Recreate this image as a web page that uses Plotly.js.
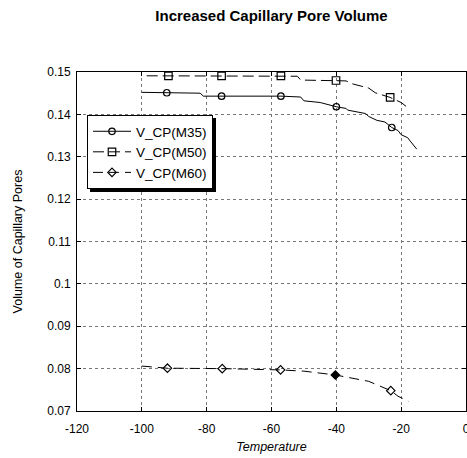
<!DOCTYPE html>
<html><head><meta charset="utf-8">
<script src="https://cdn.plot.ly/plotly-3.0.1.min.js"></script>
<style>html,body{margin:0;padding:0;background:#fff;}#chart{width:467px;height:458px;}</style>
</head><body><div id="chart"></div>
<script>
// Line data
const m35LineX = [-100, -92.3, -82, -81, -75.4, -57.1, -51, -50, -45, -40, -37, -36.5, -31, -30, -27.5, -25, -22.9, -21, -20, -18, -17, -15.2];
const m35LineY = [0.1452, 0.1451, 0.1450, 0.1443, 0.1443, 0.1443, 0.1441, 0.1432, 0.1428, 0.1418, 0.1414, 0.1410, 0.1402, 0.1395, 0.1386, 0.1382, 0.1369, 0.1362, 0.1352, 0.1345, 0.1335, 0.1318];
const m50LineX = [-98.5, -91.8, -75.4, -57.1, -52, -51, -40.1, -37, -35, -30, -28, -23.4, -20, -18.5, -17.3];
const m50LineY = [0.1491, 0.1491, 0.1491, 0.1491, 0.1490, 0.1481, 0.1480, 0.1479, 0.1472, 0.1462, 0.1451, 0.1440, 0.1428, 0.1420, 0.1412];
const m60LineX = [-100, -92.1, -75.2, -57.2, -50, -40.3, -30, -23.2, -21, -17.8];
const m60LineY = [0.0806, 0.0801, 0.0800, 0.0797, 0.0794, 0.0785, 0.0770, 0.0748, 0.0735, 0.0723];
// Marker points
const m35MarkX = [-92.3, -75.4, -57.1, -40, -22.9];
const m35MarkY = [0.1451, 0.1443, 0.1443, 0.1418, 0.1369];
const m50MarkX = [-91.8, -75.4, -57.1, -40.1, -23.4];
const m50MarkY = [0.1491, 0.1491, 0.1491, 0.1480, 0.1440];
const m60MarkX = [-92.1, -75.2, -57.2, -40.3, -23.2];
const m60MarkY = [0.0801, 0.0800, 0.0797, 0.0785, 0.0748];
const seriesNames = ["V_CP(M35)", "V_CP(M50)", "V_CP(M60)"];
const xTicks = [-120, -100, -80, -60, -40, -20, 0];
const yTicks = [0.07, 0.08, 0.09, 0.10, 0.11, 0.12, 0.13, 0.14, 0.15];
const yTickText = ["0.07", "0.08", "0.09", "0.1", "0.11", "0.12", "0.13", "0.14", "0.15"];

function gapped(a){ const out=[]; a.forEach((v,i)=>{ if(i>0) out.push(null); out.push(v); }); return out; }

const FONT = "Liberation Sans, Arial, sans-serif";
const dashes = ["solid", "11px,5px", "10px,6px"];
const symbols = ["circle-open", "square-open", "diamond-open"];
const sizes = [6.5, 7.5, 6.5];
const lines = [[m35LineX,m35LineY],[m50LineX,m50LineY],[m60LineX,m60LineY]];
const marks = [[m35MarkX,m35MarkY],[m50MarkX,m50MarkY],[m60MarkX,m60MarkY]];

const traces = [];
for (let i=0;i<3;i++){
  traces.push({x:lines[i][0], y:lines[i][1], mode:"lines", type:"scatter",
    line:{color:"#000", width:1, dash:dashes[i]},
    showlegend:false, hoverinfo:"skip", legendgroup:"g"+i});
}
for (let i=0;i<3;i++){
  let sym = symbols[i];
  if (i === 2) {
    // the diamond near -40 is drawn filled in the reference
    sym = gapped(m60MarkX.map((v,k)=> k===3 ? "diamond" : "diamond-open"));
  }
  traces.push({x:gapped(marks[i][0]), y:gapped(marks[i][1]), mode:"lines+markers", type:"scatter",
    name:seriesNames[i], connectgaps:false, legendgroup:"g"+i,
    line:{color:"#000", width:1, dash:dashes[i]},
    marker:{symbol:sym, size:sizes[i], color:"#000", line:{color:"#000", width:1.2}}});
}

const axisCommon = {showline:true, linecolor:"#000", linewidth:1, mirror:"ticks",
  ticks:"inside", ticklen:4, tickcolor:"#000", showgrid:true, gridcolor:"#777", griddash:"dot", gridwidth:1,
  zeroline:false, tickfont:{family:FONT, size:12, color:"#000"}};

const layout = {
  width:467, height:458,
  margin:{l:77, r:1, t:72, b:47},
  paper_bgcolor:"#fff", plot_bgcolor:"#fff",
  title:{text:"<b>Increased Capillary Pore Volume</b>", x:0.5, xref:"paper", y:1-16/458, yref:"container", yanchor:"middle",
    font:{family:FONT, size:15, color:"#000"}},
  xaxis:Object.assign({}, axisCommon, {range:[-120,0], tickvals:xTicks, ticktext:xTicks.map(String),
    ticklabelstandoff:7, ticklabeloverflow:"allow",
    title:{text:"<i>Temperature</i>", font:{family:FONT, size:12.5, color:"#000"}, standoff:6}}),
  yaxis:Object.assign({}, axisCommon, {range:[0.07,0.15], tickvals:yTicks, ticktext:yTickText,
    ticklabelstandoff:3,
    title:{text:"Volume of Capillary Pores", font:{family:FONT, size:12.5, color:"#000"}, standoff:21}}),
  legend:{x:(87-77)/389, y:(411-115)/339, xanchor:"left", yanchor:"top", bgcolor:"#fff", bordercolor:"#000", borderwidth:1,
    font:{family:FONT, size:13.5, color:"#000"}, tracegroupgap:0, itemwidth:38},
  shapes:[{type:"rect", xref:"paper", yref:"paper", layer:"above",
    x0:(90-77)/389, x1:(215-77)/389, y0:(411-179)/339, y1:(411-118)/339,
    fillcolor:"#000", line:{width:0}}],
  showlegend:true
};
const gd = document.getElementById("chart");
Plotly.newPlot(gd, traces, layout, {staticPlot:true, displayModeBar:false}).then(function(){
  const L = gd._fullLayout.legend;
  const w = L._width, h = L._height;
  if (w && h) {
    const pw = 389, ph = 339;
    const lx = 87, ly = 115, off = 3;
    Plotly.relayout(gd, {"shapes[0].x0":(lx+off-77)/pw, "shapes[0].x1":(lx+w+off-77)/pw,
      "shapes[0].y1":(411-ly-off)/ph, "shapes[0].y0":(411-ly-h-off)/ph});
  }
});
</script></body></html>
